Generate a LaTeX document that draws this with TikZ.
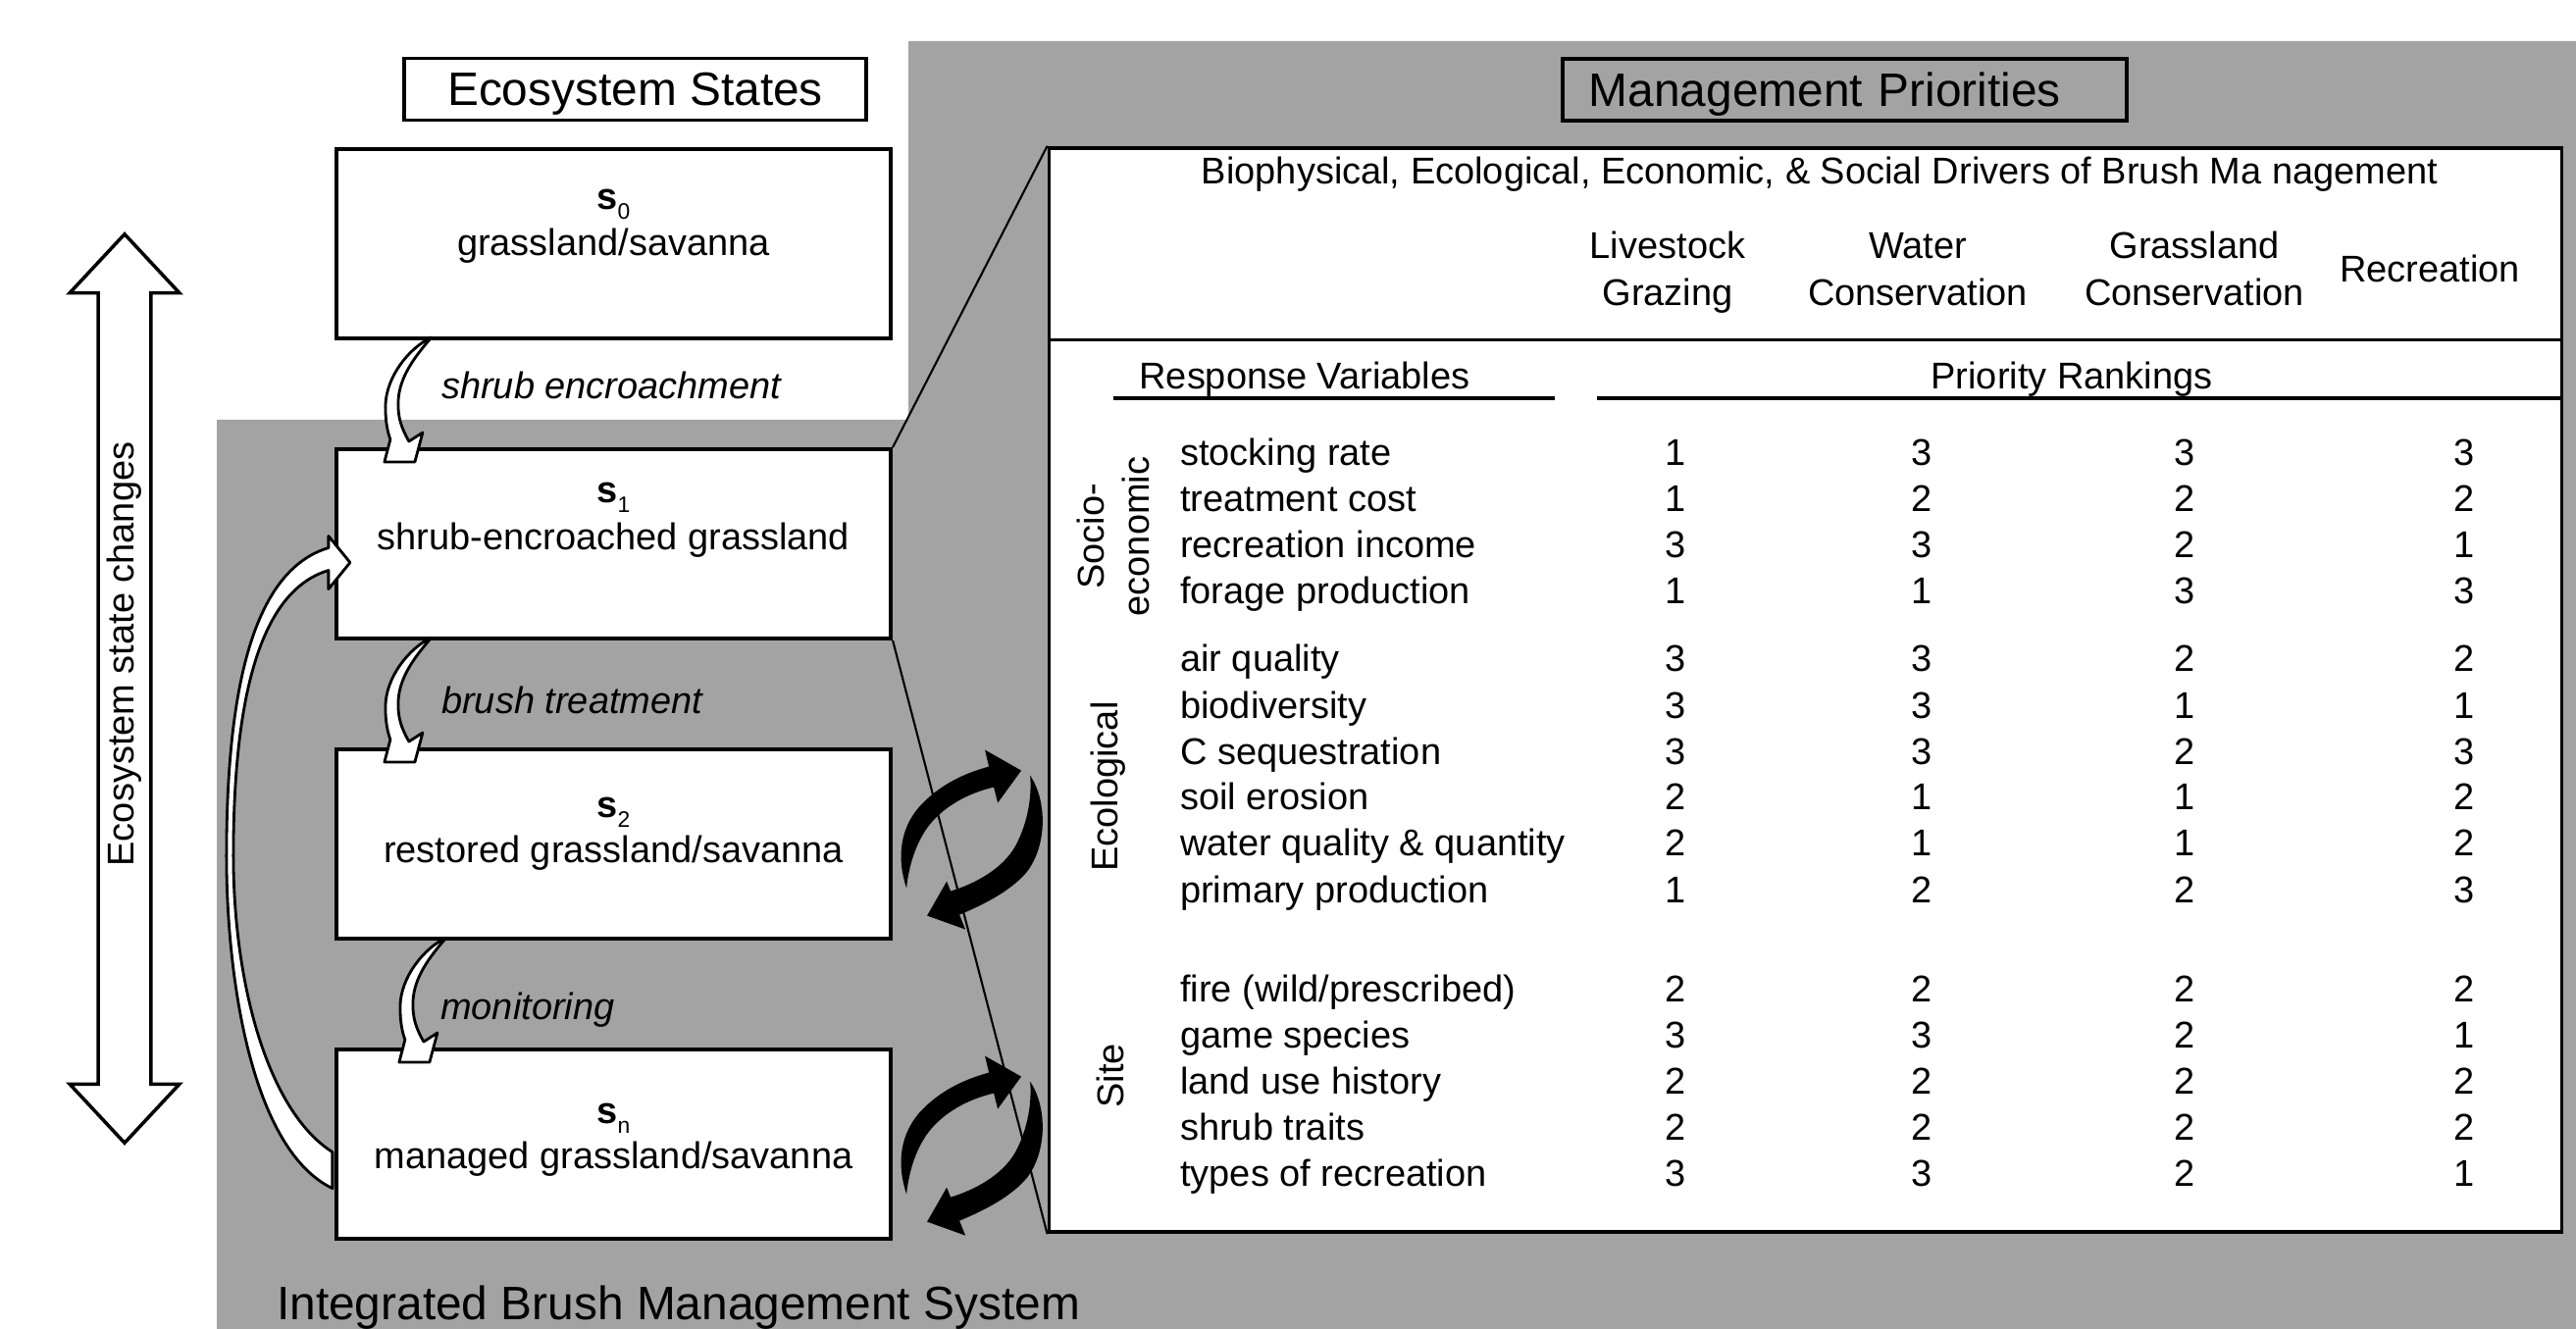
\documentclass[tikz,border=0pt]{standalone}
\usepackage{fontspec}
\setmainfont{Liberation Sans}
\usepackage{tikz}
\usetikzlibrary{ calc, positioning, shapes.arrows }
\definecolor{panelgray}{RGB}{163,163,163}
\newcommand{\stsub}[1]{\raisebox{-0.1cm}{\fontsize{6.5}{7}\selectfont #1}}
\tikzset{
node distance=1.09cm, % gap between the state boxes
every node/.style={inner sep=1pt},
body/.style={font=\fontsize{10.8}{13.3}\selectfont},
big/.style={font=\fontsize{13.6}{16}\selectfont},
process/.style={font=\fontsize{10.8}{13.3}\selectfont\itshape, anchor=base west},
statebox/.style={draw, line width=1.1pt, fill=white, minimum width=5.65cm, minimum height=1.93cm},
titlebox/.style={draw, line width=1pt, big, minimum height=0.63cm, text depth=0pt},
wband/.style={draw, fill=white, line width=0.8pt, line join=round},
% small white bent arrow, drawn from its tail
bendarrow/.pic={
  \draw[wband] (0,0) .. controls (-22,10) and (-47,40) .. (-47,71)
    .. controls (-47,85) and (-45,96) .. (-42,104)
    -- (-48,127) -- (-17,127) -- (-9,97) -- (-23,106)
    .. controls (-31,92) and (-34,82) .. (-34,68)
    .. controls (-34,45) and (-22,25) .. cycle;
},
% pair of black arrows between a state and the table
swaparrows/.pic={
  \fill (14,45) .. controls (4,15) and (7,-15) .. (27,-38)
    .. controls (47,-60) and (72,-72) .. (98,-79)
    -- (94,-96) -- (131,-75) -- (107,-42) -- (103,-58)
    .. controls (77,-52) and (50,-38) .. (34,-15)
    .. controls (22,3) and (16,25) .. cycle;
  \fill (140,-70) .. controls (157,-45) and (158,0) .. (137,28)
    .. controls (122,46) and (97,60) .. (68,72)
    -- (74,87) -- (35,73) -- (55,38) -- (59,48)
    .. controls (85,40) and (112,25) .. (125,2)
    .. controls (138,-22) and (142,-50) .. cycle;
},
}

\begin{document}
\begin{tikzpicture}[x=0.01cm, y=-0.01cm]
  \useasboundingbox (0,0) rectangle (2626,1355);
  % grey panel of the management system
  \fill[panelgray] (221,428) -- (926,428) -- (926,42) -- (2626,42) -- (2626,1355) -- (221,1355) -- cycle;

  \node[titlebox, fill=white, minimum width=4.71cm] (esthead) at (647.5,91) {Ecosystem States};
  \node[titlebox, text width=5.21cm, inner xsep=0.27cm, align=left] (mphead) at (1880.5,91.5) {Management Priorities};

  \node[double arrow, draw, line width=1pt, fill=white, rotate=90, minimum height=9.26cm, inner sep=0.25cm,
    double arrow head extend=0.29cm, double arrow tip angle=86] (escarrow) at (127,702) {};
  \node[body, rotate=90] (esclbl) at (127,667) {Ecosystem state changes};

  % states
  \node[statebox] (s0) at (625.5,248.5) {};
  \node[statebox, below=of s0] (s1) {};
  \node[statebox, below=of s1] (s2) {};
  \node[statebox, below=of s2] (sn) {};

  \node[body, anchor=base] (s0lbl) at ($(s0.center)+(0,-35)$) {\textbf{s}\stsub{0}};
  \node[body, anchor=base] (s0txt) at ($(s0.center)+(0,12)$) {grassland/savanna};
  \node[body, anchor=base] (s1lbl) at ($(s1.center)+(0,-42)$) {\textbf{s}\stsub{1}};
  \node[body, anchor=base] (s1txt) at ($(s1.center)+(0,6)$) {shrub-encroached grassland};
  \node[body, anchor=base] (s2lbl) at ($(s2.center)+(0,-27)$) {\textbf{s}\stsub{2}};
  \node[body, anchor=base] (s2txt) at ($(s2.center)+(0,19)$) {restored grassland/savanna};
  \node[body, anchor=base] (snlbl) at ($(sn.center)+(0,-21)$) {\textbf{s}\stsub{n}};
  \node[body, anchor=base] (sntxt) at ($(sn.center)+(0,25)$) {managed grassland/savanna};

  \node[process] (encr) at (446,407) {shrub encroachment};
  \node[process] (treat) at (446,728) {brush treatment};
  \node[process] (monit) at (445,1039) {monitoring};

  % table of priorities
  \node[draw, line width=1.1pt, fill=white, minimum width=15.41cm, minimum height=11.05cm] (tbl) at (1840.5,703.5) {};
  \draw[line width=0.6pt] (s1.north east) -- (tbl.north west);
  \draw[line width=0.6pt] (s1.south east) -- (tbl.south west);
  \draw[line width=1pt] ($(tbl.north west)+(0,198)$) -- ($(tbl.north east)+(0,198)$);

  \node[body, anchor=base] (drivers) at (1855,188) {Biophysical, Ecological, Economic, \& Social Drivers of Brush Ma nagement};
  \node[body, anchor=base] (live1) at (1700,264) {Livestock};
  \node[body, anchor=base] (live2) at (1700,312) {Grazing};
  \node[body, anchor=base] (water1) at (1955,264) {Water};
  \node[body, anchor=base] (water2) at (1955,312) {Conservation};
  \node[body, anchor=base] (grass1) at (2237,264) {Grassland};
  \node[body, anchor=base] (grass2) at (2237,312) {Conservation};
  \node[body, anchor=base] (recr) at (2477,288) {Recreation};

  \node[body, anchor=base] (respvar) at (1330,397) {Response Variables};
  \node[body, anchor=base] (prank) at (2112,397) {Priority Rankings};
  \draw[line width=1.1pt] (1135,406) -- (1585,406);
  \draw[line width=1.1pt] (1628,406) -- (2611,406);

  \node[body, rotate=90, align=center] (socio) at (1135,547) {Socio-\\economic};
  \node[body, rotate=90] (ecol) at (1130,802) {Ecological};
  \node[body, rotate=90] (site) at (1132,1097) {Site};

  \foreach \y/\var/\ca/\cb/\cc/\cd [count=\i] in {
      475/stocking rate/1/3/3/3, 522/treatment cost/1/2/2/2,
      569/recreation income/3/3/2/1, 616/forage production/1/1/3/3,
      685/air quality/3/3/2/2, 732/biodiversity/3/3/1/1,
      779/C sequestration/3/3/2/3, 826/soil erosion/2/1/1/2,
      873/water quality \& quantity/2/1/1/2, 920/primary production/1/2/2/3,
      1021/{fire (wild/prescribed)}/2/2/2/2, 1068/game species/3/3/2/1,
      1115/land use history/2/2/2/2, 1162/shrub traits/2/2/2/2,
      1209/types of recreation/3/3/2/1}{
    \node[body, anchor=base west] (var\i) at (1199,\y) {\var};
    \foreach \x/\v [count=\j] in {1708/\ca, 1959/\cb, 2227/\cc, 2512/\cd}
      \node[body, anchor=base] (rank\i-\j) at (\x,\y) {\v};
  }

  % transitions between states
  \pic at ($(s0.south west)+(99,-3)$) {bendarrow};
  \pic at ($(s1.south west)+(99,-3)$) {bendarrow};
  \pic at ($(s2.south west)+(114,-3)$) {bendarrow};

  \draw[wband] ($(sn.west)+(-2,45)$) .. controls +(-81,-39) and +(0,130) .. ($(sn.west)+(-110,-294)$)
    .. controls +(0,-170) and +(-77,23) .. ($(s1.west)+(-6,4)$)
    -- ($(s1.west)+(-6,-8)$) -- ($(s1.west)+(16,19)$) -- ($(s1.west)+(-6,46)$) -- ($(s1.west)+(-6,27)$)
    .. controls +(-67,20) and +(0,-170) .. ($(sn.west)+(-103,-294)$)
    .. controls +(0,130) and +(-66,-42) .. ($(sn.west)+(-2,8)$) -- cycle;

  \pic at (s2.east) {swaparrows};
  \pic at ($(sn.east)+(0,6)$) {swaparrows};

  \node[big, anchor=base west] (ibms) at (278,1345) {Integrated Brush Management System};
\end{tikzpicture}
\end{document}
